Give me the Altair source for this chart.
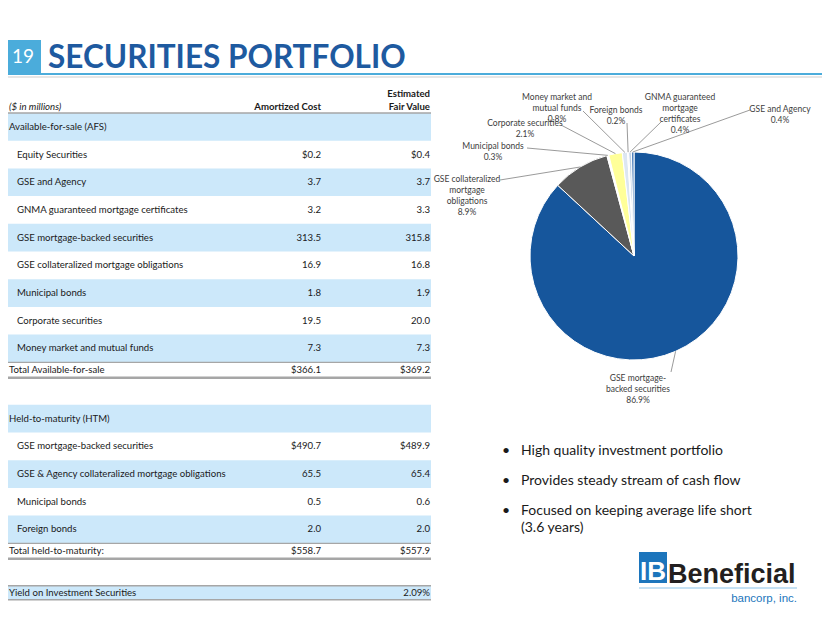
import math
import altair as alt
import pandas as pd

# ---------------- data ----------------
afs_labels = ["Equity Securities", "GSE and Agency", "GNMA guaranteed mortgage certificates",
              "GSE mortgage-backed securities", "GSE collateralized mortgage obligations",
              "Municipal bonds", "Corporate securities", "Money market and mutual funds"]
afs_cost = ["$0.2", "3.7", "3.2", "313.5", "16.9", "1.8", "19.5", "7.3"]
afs_fair = ["$0.4", "3.7", "3.3", "315.8", "16.8", "1.9", "20.0", "7.3"]
afs_total = ["Total Available-for-sale", "$366.1", "$369.2"]

htm_labels = ["GSE mortgage-backed securities", "GSE & Agency collateralized mortgage obligations",
              "Municipal bonds", "Foreign bonds"]
htm_cost = ["$490.7", "65.5", "0.5", "2.0"]
htm_fair = ["$489.9", "65.4", "0.6", "2.0"]
htm_total = ["Total held-to-maturity:", "$558.7", "$557.9"]

yield_row = ["Yield on Investment Securities", "", "2.09%"]

pie_names = ["GSE mortgage-backed securities", "GSE collateralized mortgage obligations",
             "Municipal bonds", "Corporate securities", "Money market and mutual funds",
             "Foreign bonds", "GNMA guaranteed mortgage certificates", "GSE and Agency"]
pie_pct = [86.9, 8.9, 0.3, 2.1, 0.8, 0.2, 0.4, 0.4]

bullets = ["High quality investment portfolio", "Provides steady stream of cash flow",
           "Focused on keeping average life short\n(3.6 years)"]

# ---------------- layout / style ----------------
FONT = "Lato"
TFS = 9.6
BAND = "#CCE8FA"
pie_colors = ["#16569C", "#595959", "#FFFFFF", "#FFFF99", "#DCE6F2", "#F2F2F2", "#B9CDE5", "#4F81BD"]
pie_wrapped = ["GSE mortgage-\nbacked securities", "GSE collateralized\nmortgage\nobligations",
               "Municipal bonds", "Corporate securities", "Money market and\nmutual funds",
               "Foreign bonds", "GNMA guaranteed\nmortgage\ncertificates", "GSE and Agency"]
# label centre (x, first line y) and leader start, in chart pixels
label_pos = [(630, 370), (459, 171), (485, 138), (517, 115), (549, 89), (608, 102), (672, 89), (772, 101)]
leader_start = [(663, 364), (492, 172), (519, 140), (553, 117), (575, 103), (619, 115), (654, 113), (742, 102)]
CX, CY, R = 626, 248, 104

layers = []

# ---------------- title ----------------
one = pd.DataFrame({"a": [0]})
layers.append(alt.Chart(one).mark_rect(color="#4BACDB").encode(
    x=alt.value(0), x2=alt.value(33), y=alt.value(32), y2=alt.value(67)))
layers.append(alt.Chart(one).mark_rule(color="#4BACDB", strokeWidth=2).encode(
    x=alt.value(33), x2=alt.value(814), y=alt.value(66)))
layers.append(alt.Chart(one).mark_rule(color="#E6E6E6", strokeWidth=2).encode(
    x=alt.value(0), x2=alt.value(814), y=alt.value(69)))
layers.append(alt.Chart(one).mark_text(font=FONT, fontSize=19, color="white").encode(
    x=alt.value(15), y=alt.value(49), text=alt.value("19")))
layers.append(alt.Chart(one).mark_text(font=FONT, fontSize=31.5, fontWeight="bold", color="#1E5AA0",
                                       align="left", baseline="alphabetic").encode(
    x=alt.value(40), y=alt.value(60), text=alt.value("SECURITIES PORTFOLIO")))

# ---------------- table ----------------
rows = [dict(label="Available-for-sale (AFS)", cost="", fair="", kind="section", band=True)]
for i, (l, c, f) in enumerate(zip(afs_labels, afs_cost, afs_fair)):
    rows.append(dict(label=l, cost=c, fair=f, kind="item", band=(i % 2 == 1)))
rows.append(dict(label=afs_total[0], cost=afs_total[1], fair=afs_total[2], kind="total", band=False))
rows.append(dict(label="", cost="", fair="", kind="gap", band=False))
rows.append(dict(label="Held-to-maturity (HTM)", cost="", fair="", kind="section", band=True))
for i, (l, c, f) in enumerate(zip(htm_labels, htm_cost, htm_fair)):
    rows.append(dict(label=l, cost=c, fair=f, kind="item", band=(i % 2 == 1)))
rows.append(dict(label=htm_total[0], cost=htm_total[1], fair=htm_total[2], kind="total", band=False))
rows.append(dict(label="", cost="", fair="", kind="gap", band=False))
rows.append(dict(label=yield_row[0], cost=yield_row[1], fair=yield_row[2], kind="yield", band=True))

heights = {"section": 1.0, "item": 1.0, "total": 0.56, "gap": 0.975, "yield": 0.5}
pos = 0.0
for r in rows:
    r["top"] = pos
    pos += heights[r["kind"]]
    r["bot"] = pos
    r["mid"] = (r["top"] + r["bot"]) / 2
    r["lx"] = 9 if r["kind"] == "item" else 1
tbl = pd.DataFrame(rows)
U = pos
yscale = alt.Scale(domain=[0, U], range=[105, 105 + U * 27.7], nice=False, zero=False)

layers.append(alt.Chart(tbl[tbl.band]).mark_rect(color=BAND).encode(
    x=alt.value(-1), x2=alt.value(423),
    y=alt.Y("top:Q", scale=yscale, axis=None), y2="bot:Q"))

rule_rows = []
rule_rows.append(dict(y=0.0, w=1.5))
for r in rows:
    if r["kind"] == "total":
        rule_rows.append(dict(y=r["top"], w=1.2))
        rule_rows.append(dict(y=r["bot"], w=2.5))
    if r["kind"] == "yield":
        rule_rows.append(dict(y=r["top"], w=1.5))
        rule_rows.append(dict(y=r["bot"], w=1.5))
layers.append(alt.Chart(pd.DataFrame(rule_rows)).mark_rule(color="#A6A6A6").encode(
    x=alt.value(-1), x2=alt.value(423),
    y=alt.Y("y:Q", scale=yscale, axis=None),
    strokeWidth=alt.StrokeWidth("w:Q", scale=None, legend=None)))

txt = tbl[tbl.kind != "gap"]
layers.append(alt.Chart(txt).mark_text(font=FONT, fontSize=TFS, align="left", color="#1A1A1A").encode(
    x=alt.X("lx:Q", scale=None, axis=None),
    y=alt.Y("mid:Q", scale=yscale, axis=None), text="label:N"))
layers.append(alt.Chart(txt).mark_text(font=FONT, fontSize=TFS, align="right", color="#1A1A1A").encode(
    x=alt.value(313), y=alt.Y("mid:Q", scale=yscale, axis=None), text="cost:N"))
layers.append(alt.Chart(txt).mark_text(font=FONT, fontSize=TFS, align="right", color="#1A1A1A").encode(
    x=alt.value(422), y=alt.Y("mid:Q", scale=yscale, axis=None), text="fair:N"))

# header
layers.append(alt.Chart(one).mark_text(font=FONT, fontSize=TFS, fontStyle="italic", align="left", color="#1A1A1A").encode(
    x=alt.value(1), y=alt.value(99), text=alt.value("($ in millions)")))
for (xx, yy, t) in [(313, 99, "Amortized Cost"), (422, 99, "Fair Value"), (422, 86, "Estimated")]:
    layers.append(alt.Chart(one).mark_text(font=FONT, fontSize=TFS, fontWeight="bold", align="right", color="#1A1A1A").encode(
        x=alt.value(xx), y=alt.value(yy), text=alt.value(t)))

# ---------------- pie ----------------
pie = pd.DataFrame({"name": pie_names, "pct": pie_pct, "idx": list(range(len(pie_names)))})
layers.append(alt.Chart(pie).mark_arc(radius=R, stroke="white", strokeWidth=1).encode(
    theta=alt.Theta("pct:Q", stack=True),
    order=alt.Order("idx:Q"),
    color=alt.Color("name:N", scale=alt.Scale(domain=pie_names, range=pie_colors), legend=None),
    x=alt.value(CX), y=alt.value(CY)))

tot = sum(pie_pct)
cum = 0.0
lead = []
labs = []
for i, (n, p) in enumerate(zip(pie_names, pie_pct)):
    mid = (cum + p / 2) / tot * 2 * math.pi
    cum += p
    ex = CX + R * math.sin(mid)
    ey = CY - R * math.cos(mid)
    sx, sy = leader_start[i]
    lead.append(dict(sx=sx, sy=sy, ex=ex, ey=ey))
    lx, ly = label_pos[i]
    labs.append(dict(x=lx, y=ly - 4.5, t=pie_wrapped[i] + "\n" + f"{p:.1f}%"))
layers.append(alt.Chart(pd.DataFrame(lead)).mark_rule(color="#808080", strokeWidth=0.8).encode(
    x=alt.X("sx:Q", scale=None, axis=None), y=alt.Y("sy:Q", scale=None, axis=None),
    x2="ex:Q", y2="ey:Q"))
layers.append(alt.Chart(pd.DataFrame(labs)).mark_text(
    font=FONT, fontSize=8.5, color="#404040", baseline="top", lineBreak="\n", lineHeight=11).encode(
    x=alt.X("x:Q", scale=None, axis=None), y=alt.Y("y:Q", scale=None, axis=None), text="t:N"))

# ---------------- bullets ----------------
bl = pd.DataFrame({"t": bullets, "i": list(range(len(bullets)))})
bl["y"] = 447 + bl["i"] * 30
bl["b"] = "•"
layers.append(alt.Chart(bl).mark_text(font=FONT, fontSize=14, align="left", baseline="alphabetic",
                                      color="#1A1A1A", lineBreak="\n", lineHeight=17).encode(
    x=alt.value(513), y=alt.Y("y:Q", scale=None, axis=None), text="t:N"))
layers.append(alt.Chart(bl).mark_text(font=FONT, fontSize=14, align="left", baseline="alphabetic",
                                      color="#1A1A1A").encode(
    x=alt.value(494), y=alt.Y("y:Q", scale=None, axis=None), text="b:N"))

# ---------------- logo ----------------
LOGO = "Liberation Sans"
layers.append(alt.Chart(one).mark_rect(color="#1C75BC").encode(
    x=alt.value(631), x2=alt.value(659), y=alt.value(544), y2=alt.value(575)))
layers.append(alt.Chart(one).mark_text(font=LOGO, fontSize=26, fontWeight="bold",
                                       color="white", align="center", baseline="alphabetic").encode(
    x=alt.value(645), y=alt.value(572), text=alt.value("IB")))
layers.append(alt.Chart(one).mark_text(font=LOGO, fontSize=27, fontWeight="bold",
                                       color="#231F20", align="left", baseline="alphabetic").encode(
    x=alt.value(660), y=alt.value(575), text=alt.value("Beneficial")))
layers.append(alt.Chart(one).mark_rule(color="#8CC4EA", strokeWidth=1.2).encode(
    x=alt.value(631), x2=alt.value(789), y=alt.value(580)))
layers.append(alt.Chart(one).mark_text(font=LOGO, fontSize=11.5,
                                       color="#1C75BC", align="right", baseline="alphabetic").encode(
    x=alt.value(789), y=alt.value(594), text=alt.value("bancorp, inc.")))

chart = alt.layer(*layers).properties(
    width=814, height=607, autosize=alt.AutoSizeParams(type="none"), padding=0,
    background="white"
).resolve_scale(x="independent", y="independent", color="independent").configure_view(stroke=None)

chart.save("out.html", embed_options={"renderer": "svg", "actions": False})
